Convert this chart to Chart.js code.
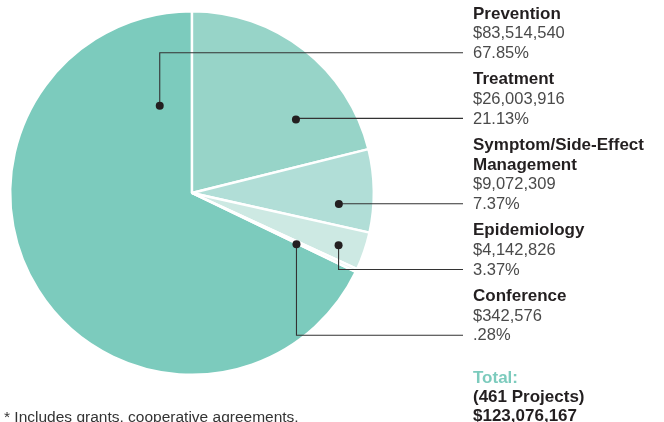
<!DOCTYPE html>
<html>
<head>
<meta charset="utf-8">
<script src="https://cdn.jsdelivr.net/npm/chart.js@4"></script>
<style>
  html, body { margin: 0; padding: 0; background: #ffffff; }
  #wrap { width: 664px; height: 422px; position: relative; overflow: hidden; }
</style>
</head>
<body>
<div id="wrap"><canvas id="c" width="664" height="422"></canvas></div>
<script>
// ---- data ----
const categories = ["Prevention", "Treatment", "Symptom/Side-Effect\nManagement", "Epidemiology", "Conference"];
const amounts = [83514540, 26003916, 9072309, 4142826, 342576];
const amountLabels = ["$83,514,540", "$26,003,916", "$9,072,309", "$4,142,826", "$342,576"];
const percentLabels = ["67.85%", "21.13%", "7.37%", "3.37%", ".28%"];
const totalLines = ["Total:", "(461 Projects)", "$123,076,167"];
const footnote = "* Includes grants, cooperative agreements,";

// ---- style ----
const colors = ["#7ccbbd", "#97d4c8", "#b1ded7", "#cde9e3", "#e8f5f2"];
// leader dot placement: t = fraction along slice angle, r = fraction of radius
const leaderStyle = [
  { t: 0.917, r: 0.512 },
  { t: 0.72, r: 0.70 },
  { t: 0.687, r: 0.81 },
  { t: 0.58, r: 0.856 },
  { t: 1.4, r: 0.64 }
];
const textX = 473;
const lineEndX = 463;
const lineH = 19.7;
const blockGap = 6.6;
const firstLineY = 14;
const boldFont = 'bold 17px "Liberation Sans", Arial, sans-serif';
const regFont = '16.5px "Liberation Sans", Arial, sans-serif';

const total = amounts.reduce((a, b) => a + b, 0);
const rotationDeg = 360 - amounts[0] / total * 360;

const calloutPlugin = {
  id: 'callouts',
  afterDraw(chart) {
    const ctx = chart.ctx;
    const arcs = chart.getDatasetMeta(0).data;
    ctx.save();
    let y = firstLineY;
    const pctY = [];
    ctx.textAlign = 'left';
    ctx.textBaseline = 'middle';
    categories.forEach((cat, i) => {
      ctx.fillStyle = '#231f20';
      ctx.font = boldFont;
      cat.split('\n').forEach(line => { ctx.fillText(line, textX, y); y += lineH; });
      ctx.fillStyle = '#4a4a4a';
      ctx.font = regFont;
      ctx.fillText(amountLabels[i], textX, y); y += lineH;
      ctx.fillText(percentLabels[i], textX, y); pctY.push(y - 0.7); y += lineH;
      y += blockGap;
    });
    y = 378;
    ctx.font = boldFont;
    totalLines.forEach((line, i) => {
      ctx.fillStyle = i === 0 ? '#7ccbbd' : '#231f20';
      ctx.fillText(line, textX, y); y += lineH - 0.5;
    });
    ctx.fillStyle = '#333333';
    ctx.font = '15.5px "Liberation Sans", Arial, sans-serif';
    ctx.fillText(footnote, 4, 418);

    arcs.forEach((arc, i) => {
      const st = leaderStyle[i];
      const a = arc.startAngle + st.t * (arc.endAngle - arc.startAngle);
      const dx = arc.x + Math.cos(a) * arc.outerRadius * st.r;
      const dy = arc.y + Math.sin(a) * arc.outerRadius * st.r;
      const ly = pctY[i];
      ctx.strokeStyle = '#333333';
      ctx.lineWidth = 1.1;
      ctx.beginPath();
      ctx.moveTo(dx, dy);
      ctx.lineTo(dx, ly);
      ctx.lineTo(lineEndX, ly);
      ctx.stroke();
      ctx.fillStyle = '#231f20';
      ctx.beginPath();
      ctx.arc(dx, dy, 4, 0, Math.PI * 2);
      ctx.fill();
    });
    ctx.restore();
  }
};

new Chart(document.getElementById('c'), {
  type: 'pie',
  data: {
    labels: categories,
    datasets: [{
      data: amounts,
      backgroundColor: colors,
      borderColor: '#ffffff',
      borderWidth: 2.4
    }]
  },
  options: {
    responsive: false,
    animation: false,
    rotation: rotationDeg,
    layout: { padding: { left: 9, right: 289, top: 10, bottom: 46 } },
    plugins: { legend: { display: false }, tooltip: { enabled: false } }
  },
  plugins: [calloutPlugin]
});
</script>
</body>
</html>
